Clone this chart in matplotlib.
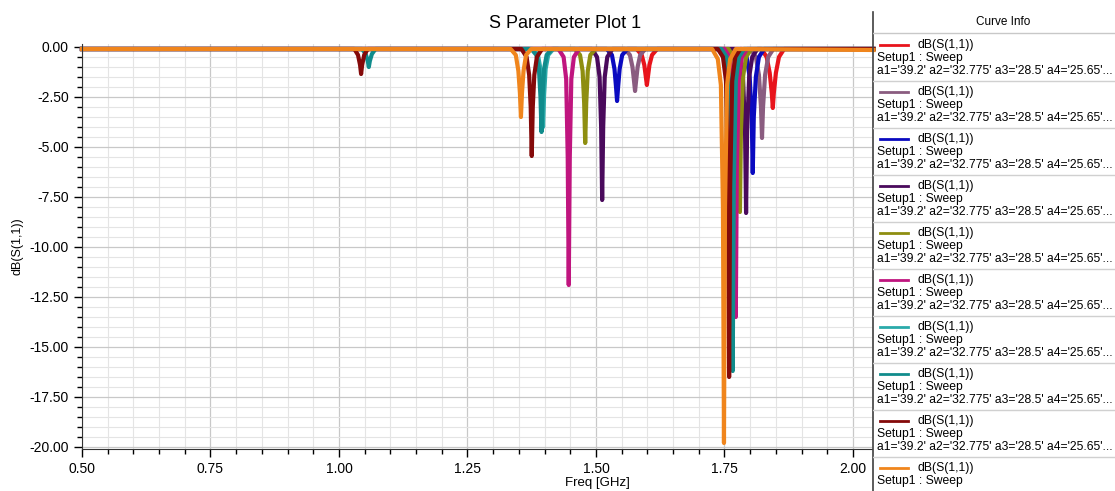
import matplotlib.pyplot as plt
from matplotlib.ticker import MultipleLocator, FormatStrFormatter

plt.rcParams['font.family'] = ['Liberation Sans', 'DejaVu Sans']

# 曲线数据 (Freq [GHz], dB(S(1,1)))
f_red = [0.5, 1.579, 1.589, 1.594, 1.597, 1.599, 1.601, 1.604, 1.609, 1.619,
         1.822, 1.832, 1.838, 1.842, 1.844, 1.846, 1.850, 1.856, 1.866, 2.04]
db_red = [-0.1, -0.1, -0.4, -0.9, -1.5, -1.9, -1.5, -0.9, -0.4, -0.1,
          -0.1, -0.5, -1.3, -2.3, -3.05, -2.3, -1.3, -0.5, -0.1, -0.1]

f_mauve = [0.5, 1.556, 1.566, 1.571, 1.574, 1.576, 1.578, 1.581, 1.586, 1.596,
           1.801, 1.811, 1.817, 1.821, 1.823, 1.825, 1.829, 1.835, 1.845, 2.04]
db_mauve = [-0.1, -0.1, -0.4, -1.0, -1.7, -2.2, -1.7, -1.0, -0.4, -0.1,
            -0.1, -0.5, -1.4, -3.0, -4.55, -3.0, -1.4, -0.5, -0.1, -0.1]

f_blue = [0.5, 1.521, 1.531, 1.536, 1.539, 1.541, 1.543, 1.546, 1.551, 1.561,
          1.783, 1.793, 1.799, 1.803, 1.805, 1.807, 1.811, 1.817, 1.827, 2.04]
db_blue = [-0.1, -0.1, -0.4, -1.1, -2.0, -2.7, -2.0, -1.1, -0.4, -0.1,
           -0.1, -0.5, -1.5, -3.5, -6.3, -3.5, -1.5, -0.5, -0.1, -0.1]

f_purple = [0.5, 1.492, 1.502, 1.507, 1.510, 1.512, 1.514, 1.517, 1.522, 1.532,
            1.770, 1.780, 1.786, 1.790, 1.792, 1.794, 1.798, 1.804, 1.814, 2.04]
db_purple = [-0.1, -0.1, -0.5, -1.5, -4.0, -7.65, -4.0, -1.5, -0.5, -0.1,
             -0.1, -0.5, -1.5, -4.2, -8.3, -4.2, -1.5, -0.5, -0.1, -0.1]

f_olive = [0.5, 1.459, 1.469, 1.474, 1.477, 1.479, 1.481, 1.484, 1.489, 1.499,
           1.758, 1.768, 1.774, 1.778, 1.780, 1.782, 1.786, 1.792, 1.802, 2.04]
db_olive = [-0.1, -0.1, -0.4, -1.2, -2.8, -4.8, -2.8, -1.2, -0.4, -0.1,
            -0.1, -0.5, -1.5, -4.2, -8.25, -4.2, -1.5, -0.5, -0.1, -0.1]

f_magenta = [0.5, 1.427, 1.437, 1.442, 1.445, 1.447, 1.449, 1.452, 1.457, 1.467,
             1.750, 1.760, 1.766, 1.770, 1.772, 1.774, 1.778, 1.784, 1.794, 2.04]
db_magenta = [-0.1, -0.1, -0.5, -1.6, -5.5, -11.9, -5.5, -1.6, -0.5, -0.1,
              -0.1, -0.5, -1.6, -6.0, -13.5, -6.0, -1.6, -0.5, -0.1, -0.1]

f_teal1 = [0.5, 1.377, 1.387, 1.392, 1.395, 1.397, 1.399, 1.402, 1.407, 1.417,
           1.742, 1.752, 1.758, 1.762, 1.764, 1.766, 1.770, 1.776, 1.786, 2.04]
db_teal1 = [-0.1, -0.1, -0.4, -1.1, -2.4, -4.0, -2.4, -1.1, -0.4, -0.1,
            -0.1, -0.5, -1.6, -6.5, -14.8, -6.5, -1.6, -0.5, -0.1, -0.1]

f_teal2 = [0.5, 1.045, 1.052, 1.056, 1.058, 1.060, 1.064, 1.071,
           1.374, 1.384, 1.389, 1.392, 1.394, 1.396, 1.399, 1.404, 1.414,
           1.744, 1.754, 1.760, 1.764, 1.766, 1.768, 1.772, 1.778, 1.788, 2.04]
db_teal2 = [-0.1, -0.1, -0.35, -0.7, -1.0, -0.7, -0.35, -0.1,
            -0.1, -0.4, -1.1, -2.5, -4.25, -2.5, -1.1, -0.4, -0.1,
            -0.1, -0.5, -1.7, -7.0, -16.2, -7.0, -1.7, -0.5, -0.1, -0.1]

f_darkred = [0.5, 1.030, 1.037, 1.041, 1.043, 1.045, 1.049, 1.056,
             1.355, 1.365, 1.370, 1.373, 1.375, 1.377, 1.380, 1.385, 1.395,
             1.737, 1.747, 1.753, 1.757, 1.759, 1.761, 1.765, 1.771, 1.781, 2.04]
db_darkred = [-0.1, -0.1, -0.4, -0.9, -1.35, -0.9, -0.4, -0.1,
              -0.1, -0.5, -1.4, -3.0, -5.45, -3.0, -1.4, -0.5, -0.1,
              -0.1, -0.5, -1.7, -7.0, -16.5, -7.0, -1.7, -0.5, -0.1, -0.1]

f_orange = [0.5, 1.334, 1.344, 1.349, 1.352, 1.354, 1.356, 1.359, 1.364, 1.374,
            1.726, 1.737, 1.743, 1.747, 1.749, 1.751, 1.755, 1.761, 1.772, 2.04]
db_orange = [-0.1, -0.1, -0.4, -1.2, -2.3, -3.5, -2.3, -1.2, -0.4, -0.1,
             -0.1, -0.6, -1.9, -8.0, -19.8, -8.0, -1.9, -0.6, -0.1, -0.15]

curves = [(f_red, db_red, '#E8141C'),
          (f_mauve, db_mauve, '#8A5C80'),
          (f_blue, db_blue, '#0A0AC0'),
          (f_purple, db_purple, '#4A0A5C'),
          (f_olive, db_olive, '#8E8E10'),
          (f_magenta, db_magenta, '#C0157F'),
          (f_teal1, db_teal1, '#2AAAAA'),
          (f_teal2, db_teal2, '#108C8C'),
          (f_darkred, db_darkred, '#840A0A'),
          (f_orange, db_orange, '#F0851C')]

legend_label = 'dB(S(1,1))'
legend_setup = 'Setup1 : Sweep'
legend_vars = "a1='39.2' a2='32.775' a3='28.5' a4='25.65'..."

W, H = 1115, 491
fig = plt.figure(figsize=(W / 100, H / 100), dpi=100)
ax = fig.add_axes([82 / W, 1 - 449 / H, (872 - 82) / W, (449 - 44) / H])

for f, db, c in curves:
    ax.plot(f, db, color=c, lw=3.0, solid_joinstyle='round', clip_on=False)

ax.set_xlim(0.5, 2.037)
ax.set_ylim(-20.1, 0.15)
ax.xaxis.set_major_locator(MultipleLocator(0.25))
ax.xaxis.set_minor_locator(MultipleLocator(0.05))
ax.yaxis.set_major_locator(MultipleLocator(2.5))
ax.yaxis.set_minor_locator(MultipleLocator(0.5))
ax.xaxis.set_major_formatter(FormatStrFormatter('%.2f'))
ax.yaxis.set_major_formatter(FormatStrFormatter('%.2f'))
ax.grid(which='major', color='#c8c8c8', lw=0.9)
ax.grid(which='minor', color='#e4e4e4', lw=0.8)
ax.set_axisbelow(True)
ax.tick_params(which='major', direction='out', length=6, width=1, labelsize=10, color='black')
ax.tick_params(which='minor', direction='out', length=3.5, width=1, color='black')
for s in ['top', 'right']:
    ax.spines[s].set_visible(False)
ax.spines['left'].set_color('#333333')
ax.spines['bottom'].set_color('#333333')
ax.set_ylabel('dB(S(1,1))', fontsize=9, labelpad=4)

fig.text(565 / W, 1 - 24 / H, 'S Parameter Plot 1', ha='center', va='center', fontsize=13)
fig.text(597 / W, 1 - 483 / H, 'Freq [GHz]', ha='center', va='center', fontsize=9.5)

# 图例面板 (Curve Info)
lax = fig.add_axes([873 / W, 0, (W - 873) / W, 1 - 12 / H])
lax.set_xlim(0, W - 873)
lax.set_ylim(H, 12)
lax.axis('off')
lax.plot([0, 0], [12, H], color='#404040', lw=1.2, clip_on=False)
lax.text(130, 22, 'Curve Info', ha='center', va='center', fontsize=8.5)
lax.plot([0, W - 873], [33, 33], color='#c8c8c8', lw=1)
for i, (f, db, c) in enumerate(curves):
    y0 = 45 + 47 * i
    lax.plot([7, 35], [y0, y0], color=c, lw=2)
    lax.text(45, y0, legend_label, va='center', fontsize=8.7)
    lax.text(4, y0 + 13, legend_setup, va='center', fontsize=8.7)
    if y0 + 30 < H:
        lax.text(4, y0 + 26, legend_vars, va='center', fontsize=8.7)
        lax.plot([0, W - 873], [y0 + 36, y0 + 36], color='#d0d0d0', lw=1)

fig.savefig('out.png', dpi=100)
